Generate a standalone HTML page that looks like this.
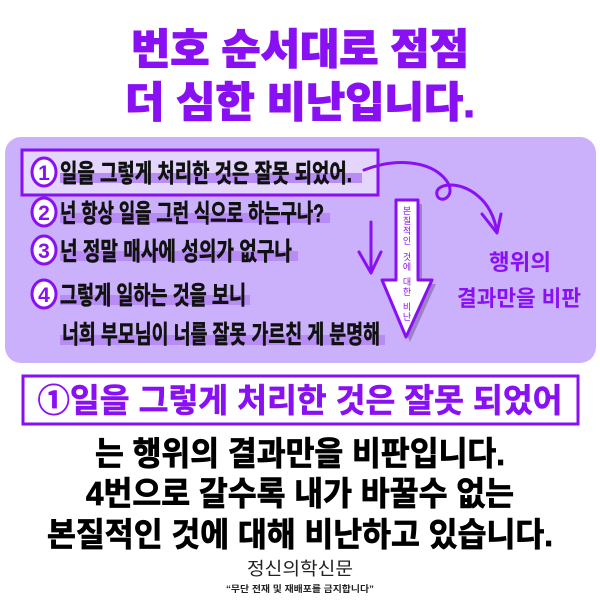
<!DOCTYPE html>
<html><head><meta charset="utf-8"><style>
html,body{margin:0;padding:0;background:#fff;}
svg text{font-family:"Liberation Sans","Noto Sans CJK KR",sans-serif;}
</style></head><body>
<svg width="600" height="600" viewBox="0 0 600 600" xmlns="http://www.w3.org/2000/svg">
<rect width="600" height="600" fill="#fff"/>
<g fill="#8a10f4" font-weight="900" font-size="42" text-anchor="middle" stroke="#8a10f4" stroke-width="1">
<text x="300" y="64" textLength="338" lengthAdjust="spacingAndGlyphs">번호 순서대로 점점</text>
<text x="300" y="117" textLength="350" lengthAdjust="spacingAndGlyphs">더 심한 비난입니다.</text>
</g>
<rect x="5" y="137" width="591" height="226" rx="16" fill="#cbb0fb"/>
<rect x="22" y="150" width="356" height="45" fill="#e3d5fc" stroke="#8a10f4" stroke-width="3"/>
<g fill="#b78cf5">
<rect x="60" y="173" width="302" height="10"/>
<rect x="60" y="213" width="270" height="10"/>
<rect x="60" y="251" width="238" height="10"/>
<rect x="60" y="295" width="190" height="10"/>
<rect x="60" y="335" width="325" height="10"/>
</g>
<g fill="#fff" stroke="#8a10f4" stroke-width="3">
<ellipse cx="44" cy="172" rx="12" ry="14"/><ellipse cx="44" cy="212" rx="12" ry="14"/><ellipse cx="44" cy="250" rx="12" ry="14"/><ellipse cx="44" cy="294" rx="12" ry="14"/>
</g>
<g font-weight="900" font-size="21" fill="#8a10f4" text-anchor="middle">
<text x="44" y="180">1</text><text x="44" y="220">2</text><text x="44" y="258">3</text><text x="44" y="302">4</text>
</g>
<g font-weight="700" font-size="25" fill="#111" stroke="#111" stroke-width="0.6">
<text x="60" y="182" textLength="292" lengthAdjust="spacingAndGlyphs">일을 그렇게 처리한 것은 잘못 되었어.</text>
<text x="60" y="222" textLength="264" lengthAdjust="spacingAndGlyphs">넌 항상 일을 그런 식으로 하는구나?</text>
<text x="60" y="260" textLength="232" lengthAdjust="spacingAndGlyphs">넌 정말 매사에 성의가 없구나</text>
<text x="60" y="304" textLength="186" lengthAdjust="spacingAndGlyphs">그렇게 일하는 것을 보니</text>
<text x="62" y="343" textLength="318" lengthAdjust="spacingAndGlyphs">너희 부모님이 너를 잘못 가르친 게 분명해</text>
</g>
<g stroke="#8a10f4" stroke-width="3" fill="none" stroke-linecap="round" stroke-linejoin="round">
<path d="M371 222 L371 272"/><path d="M359 252 L371 273 L381 252"/>
<path d="M364 170 C395 158 430 160 446 180 C458 196 440 205 437 195 C434 183 460 180 478 196 C490 206 495 220 497 232"/>
<path d="M482 214 L497 233 L501 214"/>
</g>
<path d="M400 204 L422 204 L422 284 L436 284 L410 342 L386 284 L400 284 Z" fill="#8a6cb0" opacity="0.7"/>
<path d="M396 200 L418 200 L418 280 L432 280 L406 337 L382 280 L396 280 Z" fill="#fff" stroke="#8a10f4" stroke-width="3" stroke-linejoin="round"/>
<g font-size="9" fill="#8a10f4" text-anchor="middle">
<text x="407" y="214">본</text><text x="407" y="224">질</text><text x="407" y="234">적</text><text x="407" y="244">인</text>
<text x="407" y="260">것</text><text x="407" y="270">에</text>
<text x="407" y="285">대</text><text x="407" y="295">한</text>
<text x="407" y="310">비</text><text x="407" y="320">난</text>
</g>
<g fill="#8a10f4" font-weight="700" font-size="22" text-anchor="middle">
<text x="520" y="270" textLength="62" lengthAdjust="spacingAndGlyphs">행위의</text>
<text x="519" y="306" textLength="124" lengthAdjust="spacingAndGlyphs">결과만을 비판</text>
</g>
<rect x="23" y="376" width="555" height="48" fill="#fff" stroke="#8a10f4" stroke-width="3"/>
<text x="300" y="412" fill="#8a10f4" font-weight="700" font-size="33" stroke="#8a10f4" stroke-width="0.6" text-anchor="middle" textLength="525" lengthAdjust="spacingAndGlyphs">①일을 그렇게 처리한 것은 잘못 되었어</text>
<g fill="#000" font-weight="700" font-size="33" text-anchor="middle" stroke="#000" stroke-width="0.8">
<text x="300" y="465" textLength="410" lengthAdjust="spacingAndGlyphs">는 행위의 결과만을 비판입니다.</text>
<text x="300" y="505" textLength="428" lengthAdjust="spacingAndGlyphs">4번으로 갈수록 내가 바꿀수 없는</text>
<text x="300" y="546" textLength="506" lengthAdjust="spacingAndGlyphs">본질적인 것에 대해 비난하고 있습니다.</text>
</g>
<text x="300" y="575" font-size="18" fill="#222" text-anchor="middle" textLength="106" lengthAdjust="spacingAndGlyphs">정신의학신문</text>
<text x="300" y="592" font-size="9" font-weight="700" fill="#222" text-anchor="middle" textLength="148" lengthAdjust="spacingAndGlyphs">“무단 전재 및 재배포를 금지합니다”</text>
</svg>
</body></html>
